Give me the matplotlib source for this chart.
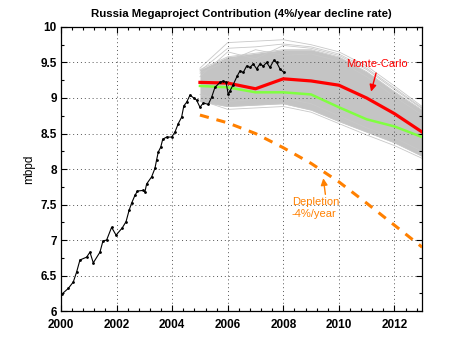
import matplotlib
matplotlib.use("Agg")
import matplotlib.pyplot as plt
from matplotlib.ticker import MultipleLocator

plt.rcParams['font.family'] = ['Liberation Sans', 'DejaVu Sans']

# Historical production (mbpd)
hist_years = [2000.03, 2000.26, 2000.44, 2000.56, 2000.68, 2000.92, 2001.04, 2001.16,
              2001.40, 2001.51, 2001.64, 2001.82, 2001.98, 2002.20, 2002.34, 2002.45,
              2002.54, 2002.66, 2002.75, 2002.96, 2003.02, 2003.08, 2003.26, 2003.38,
              2003.44, 2003.50, 2003.59, 2003.66, 2003.80, 2003.98, 2004.10, 2004.22,
              2004.34, 2004.42, 2004.52, 2004.64, 2004.78, 2004.88, 2005.00, 2005.12,
              2005.30, 2005.42, 2005.54, 2005.72, 2005.84, 2005.94, 2006.02, 2006.08,
              2006.20, 2006.34, 2006.44, 2006.56, 2006.68, 2006.80, 2006.92, 2007.04,
              2007.16, 2007.28, 2007.40, 2007.52, 2007.66, 2007.76, 2007.88, 2008.02]
hist_vals = [6.24, 6.32, 6.41, 6.55, 6.72, 6.76, 6.83, 6.68,
             6.83, 6.99, 7.00, 7.18, 7.07, 7.17, 7.26, 7.42,
             7.52, 7.63, 7.69, 7.70, 7.68, 7.79, 7.89, 8.01,
             8.13, 8.24, 8.31, 8.42, 8.45, 8.45, 8.52, 8.64,
             8.73, 8.89, 8.94, 9.04, 9.00, 8.97, 8.87, 8.93,
             8.91, 9.01, 9.15, 9.22, 9.24, 9.22, 9.05, 9.10,
             9.19, 9.31, 9.38, 9.36, 9.45, 9.43, 9.48, 9.41,
             9.48, 9.45, 9.50, 9.43, 9.53, 9.50, 9.41, 9.36]

# Projection years
proj_years = [2005, 2006, 2007, 2008, 2009, 2010, 2011, 2012, 2013]
mc_mean = [9.22, 9.21, 9.13, 9.27, 9.24, 9.18, 9.00, 8.78, 8.52]
green_line = [9.17, 9.15, 9.08, 9.08, 9.05, 8.87, 8.70, 8.60, 8.45]
depletion = [8.76, 8.65, 8.50, 8.30, 8.08, 7.82, 7.52, 7.21, 6.90]

# Monte-Carlo spread (gray traces)
mc_upper = [9.40, 9.58, 9.63, 9.68, 9.68, 9.58, 9.37, 9.09, 8.83]
mc_lower = [8.95, 8.88, 8.90, 8.92, 8.83, 8.67, 8.52, 8.37, 8.18]
mc_trace_a = [9.42, 9.78, 9.80, 9.82, 9.75, 9.65, 9.45, 9.17, 8.88]
mc_trace_b = [9.38, 9.70, 9.72, 9.76, 9.72, 9.62, 9.42, 9.14, 8.86]
mc_trace_c = [9.30, 9.65, 9.55, 9.74, 9.70, 9.60, 9.40, 9.12, 8.85]
mc_trace_d = [8.97, 8.84, 8.86, 8.88, 8.80, 8.64, 8.48, 8.33, 8.15]
mc_trace_e = [9.35, 9.52, 9.68, 9.60, 9.62, 9.52, 9.30, 9.02, 8.76]
mc_trace_f = [9.05, 8.95, 8.98, 9.00, 8.92, 8.75, 8.58, 8.44, 8.25]

fig = plt.figure(figsize=(4.66, 3.5), dpi=100)
ax = fig.add_axes([0.131, 0.111, 0.775, 0.812])

ax.fill_between(proj_years, mc_lower, mc_upper, color='#c4c4c4', lw=0, zorder=1)
for tr in (mc_trace_a, mc_trace_b, mc_trace_c, mc_trace_d, mc_trace_e, mc_trace_f,
           mc_upper, mc_lower):
    ax.plot(proj_years, tr, color='#c8c8c8', lw=0.6, zorder=1)

ax.plot(proj_years, depletion, color='#ff8000', lw=2.2, ls=(0, (3, 2.6)), zorder=3)
ax.plot(proj_years, green_line, color='#80ff40', lw=1.8, zorder=3)
ax.plot(proj_years, mc_mean, color='#ff0000', lw=2.3, zorder=4)
ax.plot(hist_years, hist_vals, color='black', lw=0.8, marker='.', ms=2, zorder=5)

ax.annotate('Monte-Carlo', xy=(2011.16, 9.09), xytext=(2011.38, 9.48),
            color='#ff0000', fontsize=8, ha='center', va='center',
            arrowprops=dict(arrowstyle='-|>', color='#ff0000', lw=1.0,
                            mutation_scale=10, shrinkA=1, shrinkB=0,
                            relpos=(0.5, 0.0)))
ax.annotate('Depletion\n-4%/year', xy=(2009.44, 7.87), xytext=(2008.3, 7.45),
            color='#ff8000', fontsize=8, ha='left', va='center', linespacing=1.25,
            arrowprops=dict(arrowstyle='-|>', color='#ff8000', lw=1.0,
                            mutation_scale=10, shrinkA=0, shrinkB=0,
                            relpos=(0.72, 1.0)))

ax.set_xlim(2000, 2013)
ax.set_ylim(6, 10)
ax.xaxis.set_major_locator(MultipleLocator(2))
ax.xaxis.set_minor_locator(MultipleLocator(0.4))
ax.yaxis.set_minor_locator(MultipleLocator(0.25))
yt = [6, 6.5, 7, 7.5, 8, 8.5, 9, 9.5, 10]
ax.set_yticks(yt)
ax.set_yticklabels([('%g' % v) for v in yt])
ax.tick_params(which='both', direction='in', top=True, right=True, width=0.8)
ax.tick_params(which='major', length=4, labelsize=8.5)
ax.tick_params(axis='y', which='major', pad=3)
ax.tick_params(axis='x', which='major', pad=6)
ax.tick_params(which='minor', length=2)
for lbl in ax.get_xticklabels() + ax.get_yticklabels():
    lbl.set_fontweight('bold')
ax.grid(True, which='major', ls=(0, (1, 3)), color='#555555', lw=0.7)
for s in ax.spines.values():
    s.set_linewidth(0.9)
ax.set_ylabel('mbpd', fontsize=8.5, labelpad=4)
ax.set_title('Russia Megaproject Contribution (4%/year decline rate)',
             fontsize=8.2, fontweight='bold', pad=7)

fig.savefig('out.png', dpi=100)
